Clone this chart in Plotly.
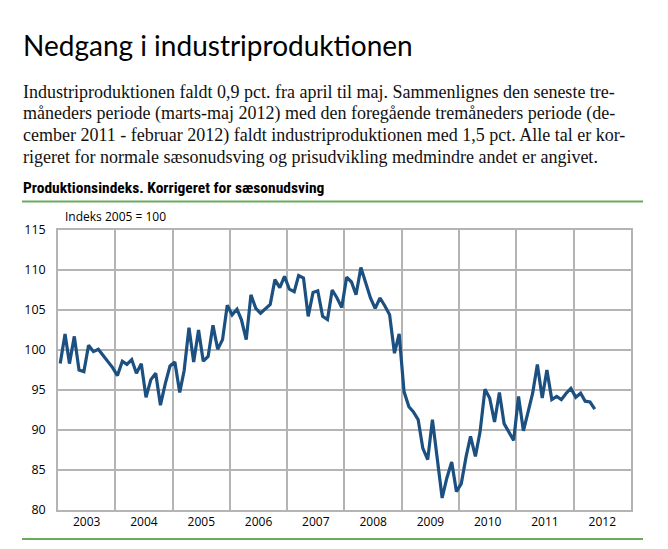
import plotly.graph_objects as go
import pandas as pd

# ---- data (index 2005 = 100), monthly, seasonally adjusted ----
v2003 = [98.3, 102.0, 98.3, 101.7, 97.5, 97.3, 100.6, 99.8, 100.1, 99.3, 98.5, 97.8]
v2004 = [96.8, 98.6, 98.2, 98.8, 97.1, 98.3, 94.1, 96.3, 97.1, 93.1, 95.8, 98.0]
v2005 = [98.5, 94.7, 97.4, 102.8, 98.5, 102.5, 98.6, 99.2, 103.1, 100.1, 101.3, 105.6]
v2006 = [104.4, 105.1, 103.8, 101.3, 106.9, 105.2, 104.6, 105.2, 105.7, 108.8, 107.8, 109.2]
v2007 = [107.6, 107.3, 109.3, 109.0, 104.2, 107.2, 107.4, 104.2, 103.8, 107.5, 106.5, 105.3]
v2008 = [109.1, 108.5, 106.9, 110.3, 108.3, 106.5, 105.2, 106.5, 105.5, 104.4, 99.6, 102.0]
v2009 = [94.8, 92.9, 92.3, 91.3, 87.7, 86.3, 91.3, 86.5, 81.5, 84.0, 86.0, 82.3]
v2010 = [83.3, 86.7, 89.2, 86.7, 89.8, 95.1, 94.0, 91.0, 94.7, 90.8, 89.8, 88.7]
v2011 = [94.2, 89.9, 92.1, 94.6, 98.2, 94.0, 97.5, 93.8, 94.2, 93.8, 94.6, 95.2]
v2012 = [94.1, 94.6, 93.6, 93.5, 92.6]

values = v2003 + v2004 + v2005 + v2006 + v2007 + v2008 + v2009 + v2010 + v2011 + v2012
months = pd.date_range("2003-01-01", periods=len(values), freq="MS") + pd.Timedelta(days=14)

y_ticks = [80, 85, 90, 95, 100, 105, 110, 115]

# ---- layout geometry (pixels) ----
W, H = 668, 549
L, R, T, B = 58, 631, 230, 510


def px(x):
    return (x - L) / (R - L)


def py(y):
    return (B - y) / (B - T)


GREEN = "#6aaa5c"
GRID = "#b4b4b4"
LINE = "#1c5080"

fig = go.Figure()
fig.add_trace(go.Scatter(
    x=months, y=values, mode="lines",
    line=dict(color=LINE, width=3.2), hoverinfo="skip", showlegend=False,
))

fig.update_layout(
    width=W, height=H,
    margin=dict(l=L, r=W - R, t=T, b=H - B),
    paper_bgcolor="white", plot_bgcolor="white",
    font=dict(family="Open Sans, sans-serif", color="black"),
    xaxis=dict(
        type="date",
        range=["2003-01-01", "2013-01-01"],
        tick0="2003-01-01", dtick="M12", tickformat="%Y",
        ticklabelmode="period",
        showgrid=True, gridcolor=GRID, gridwidth=1.5,
        showline=True, linecolor=GRID, linewidth=1.5, mirror=True,
        ticks="", tickfont=dict(size=12, family="Open Sans, sans-serif"),
        zeroline=False, fixedrange=True,
    ),
    yaxis=dict(
        range=[80, 115], tickvals=y_ticks,
        showgrid=True, gridcolor=GRID, gridwidth=1.5,
        showline=True, linecolor=GRID, linewidth=1.5, mirror=True,
        ticks="outside", ticklen=8, tickcolor="rgba(0,0,0,0)",
        tickfont=dict(size=12.5, family="Open Sans, sans-serif"),
        zeroline=False, fixedrange=True,
    ),
)

shapes = [
    dict(type="line", xref="paper", yref="y", x0=0, x1=1, y0=100, y1=100,
         line=dict(color="black", width=1.2), layer="between"),
    dict(type="line", xref="paper", yref="paper", x0=px(22), x1=px(643),
         y0=py(201.5), y1=py(201.5), line=dict(color=GREEN, width=2)),
    dict(type="line", xref="paper", yref="paper", x0=px(22), x1=px(643),
         y0=py(539), y1=py(539), line=dict(color=GREEN, width=2)),
]
fig.update_layout(shapes=shapes)

ann = []
ann.append(dict(text="Nedgang i industriproduktionen", x=px(21), y=py(45),
                xref="paper", yref="paper", xanchor="left", yanchor="middle",
                showarrow=False,
                font=dict(family="Lato, sans-serif", size=28, color="black")))

para = [
    "Industriproduktionen faldt 0,9 pct. fra april til maj. Sammenlignes den seneste tre-",
    "måneders periode (marts-maj 2012) med den foregående tremåneders periode (de-",
    "cember 2011 - februar 2012) faldt industriproduktionen med 1,5 pct. Alle tal er kor-",
    "rigeret for normale sæsonudsving og prisudvikling medmindre andet er angivet.",
]
for i, line in enumerate(para):
    ann.append(dict(text=line, x=px(21), y=py(92 + i * 21.5),
                    xref="paper", yref="paper", xanchor="left", yanchor="middle",
                    showarrow=False,
                    font=dict(family="Liberation Serif, serif", size=18, color="#111")))

ann.append(dict(text="<b>Produktionsindeks. Korrigeret for sæsonudsving</b>",
                x=px(21), y=py(188), xref="paper", yref="paper",
                xanchor="left", yanchor="middle", showarrow=False,
                font=dict(family="Liberation Sans Narrow, Roboto Condensed, Roboto, sans-serif",
                          size=15.5, color="black")))

ann.append(dict(text="Indeks 2005 = 100", x=px(63), y=py(216),
                xref="paper", yref="paper", xanchor="left", yanchor="middle",
                showarrow=False,
                font=dict(family="Open Sans, sans-serif", size=12, color="black")))

fig.update_layout(annotations=ann)

fig.write_html("out.html")
